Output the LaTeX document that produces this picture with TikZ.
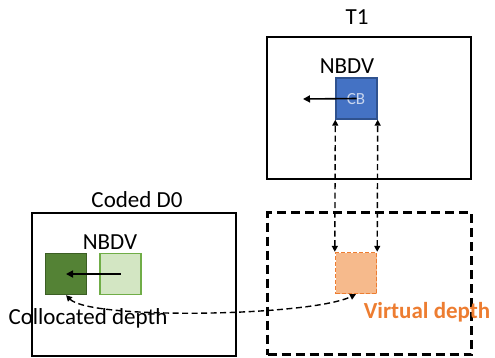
\documentclass[tikz,border=0pt]{standalone}
\usepackage{fontspec}
\setmainfont{Carlito}
\usetikzlibrary{arrows.meta}
\definecolor{cbblue}{HTML}{4472C4}
\definecolor{cbborder}{HTML}{2F528F}
\definecolor{dgreen}{HTML}{548235}
\definecolor{dgborder}{HTML}{3B5E24}
\definecolor{lgreen}{HTML}{D3E6C3}
\definecolor{lgborder}{HTML}{70AD47}
\definecolor{vorange}{HTML}{F6BA8C}
\definecolor{vborder}{HTML}{ED7D31}
\definecolor{cbtext}{HTML}{C9D6EE}
\tikzset{
  frame/.style={draw=black, line width=2.4pt, rectangle, minimum width=204pt, minimum height=142pt, inner sep=0pt},
  blk/.style={rectangle, minimum width=41pt, minimum height=41pt, inner sep=0pt, line width=1.4pt},
  lbl/.style={font=\fontsize{23}{25}\selectfont, inner sep=0pt},
  arr/.style={-{Triangle[length=7pt,width=7pt]}, line width=1.6pt},
  darr/.style={{Triangle[length=6pt,width=6pt]}-{Triangle[length=6pt,width=6pt]}, line width=1.4pt, dash pattern=on 6pt off 3.5pt},
}
\begin{document}
\begin{tikzpicture}[x=1pt,y=-1pt]
\useasboundingbox (0,0) rectangle (495,357);
% frames
\node[frame] (t1) at (369,108) {};
\node[frame, dash pattern=on 9pt off 5pt] (vf) at (369.5,283.5) {};
\node[frame, minimum height=143pt] (d0) at (134,284.5) {};
% frame titles
\node[lbl] (t1lbl) at (357,17) {T1};
\node[lbl] (d0lbl) at (137,200) {Coded D0};
% blocks
\node[blk, draw=cbborder, fill=cbblue] (cb) at (356.5,98.5) {};
\node[font=\fontsize{17}{19}\selectfont, text=cbtext, inner sep=0pt] (cbt) at (356,99) {CB};
\node[blk, draw=vborder, fill=vorange, dash pattern=on 4pt off 2pt] (vb) at (356,273) {};
\node[blk, draw=dgborder, fill=dgreen] (dg) at (66,274) {};
\node[blk, draw=lgborder, fill=lgreen] (lg) at (120.5,274) {};
% labels
\node[lbl] (nb1) at (347,66) {NBDV};
\node[lbl] (nb2) at (110,242) {NBDV};
\node[lbl] (coll) at (88,318) {Collocated depth};
\node[lbl, font=\fontsize{23}{25}\selectfont\bfseries, text=vborder] (virt) at (427,312) {Virtual depth};
% arrows
\coordinate (mvend) at (303,99);
\draw[arr] (cb.center) -- (mvend);
\draw[arr] (lg.center) -- (dg.center);
\draw[darr] (vb.north west) -- (cb.south west);
\draw[darr] (vb.north east) -- (cb.south east);
\draw[darr] (dg.south) .. controls +(25,25) and +(-45,22) .. (vb.south);
\end{tikzpicture}
\end{document}
